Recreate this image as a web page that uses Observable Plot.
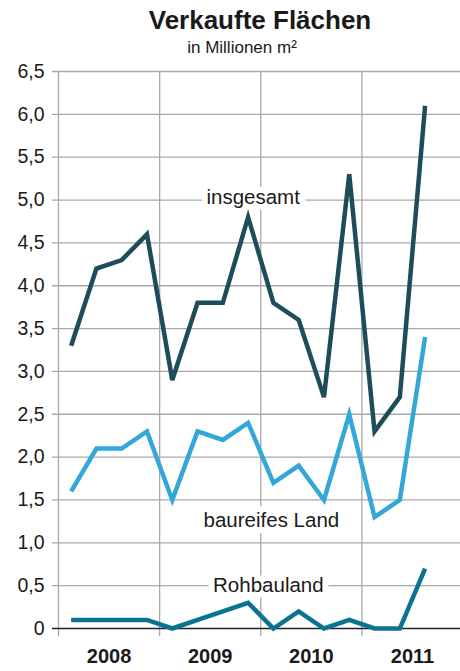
<!DOCTYPE html>
<html>
<head>
<meta charset="utf-8">
<script src="https://cdn.jsdelivr.net/npm/d3@7"></script>
<script src="https://cdn.jsdelivr.net/npm/@observablehq/plot@0.6"></script>
<style>
  body { margin: 0; background: #fff; font-family: "Liberation Sans", Arial, sans-serif; }
  #wrap { position: relative; width: 460px; height: 671px; overflow: hidden; }
  #title { position: absolute; top: 5px; left: 110px; width: 300px; text-align: center; font-weight: bold; font-size: 26px; line-height: 30px; color: #1a1a1a; white-space: nowrap; }
  #subtitle { position: absolute; top: 38px; left: 92px; width: 300px; text-align: center; font-size: 17px; line-height: 20px; color: #1a1a1a; white-space: nowrap; }
  #chart { position: absolute; top: 0; left: 0; }
</style>
</head>
<body>
<div id="wrap">
  <div id="chart"></div>
  <div id="title">Verkaufte Flächen</div>
  <div id="subtitle">in Millionen m²</div>
</div>
<script>
const quarters = d3.range(15); // 2008 Q1 .. 2011 Q3
const years = ["2008", "2009", "2010", "2011"];
const insgesamt = [3.3, 4.2, 4.3, 4.6, 2.9, 3.8, 3.8, 4.8, 3.8, 3.6, 2.7, 5.3, 2.3, 2.7, 6.1];
const baureifes = [1.6, 2.1, 2.1, 2.3, 1.5, 2.3, 2.2, 2.4, 1.7, 1.9, 1.5, 2.5, 1.3, 1.5, 3.4];
const rohbauland = [0.1, 0.1, 0.1, 0.1, 0, 0.1, 0.2, 0.3, 0, 0.2, 0, 0.1, 0, 0, 0.7];
const seriesNames = ["insgesamt", "baureifes Land", "Rohbauland"];
const seriesColors = ["#1e4d5a", "#34a7d9", "#0a7391"];
const yTicks = d3.range(0, 6.51, 0.5);
const labelX = [7.7, 8.42, 8.3];
const labelY = [5.03, 1.26, 0.5];

const rows = [];
[insgesamt, baureifes, rohbauland].forEach((vals, s) => {
  vals.forEach((v, i) => rows.push({series: seriesNames[s], q: quarters[i] + 0.5, value: v}));
});
const labels = seriesNames.map((n, i) => ({name: n, x: labelX[i], y: labelY[i]}));
const fmt = v => v === 0 ? "0" : v.toFixed(1).replace(".", ",");

const plot = Plot.plot({
  width: 460,
  height: 671,
  marginTop: 71,
  marginBottom: 43,
  marginLeft: 58,
  marginRight: 0,
  style: {fontFamily: "Liberation Sans, Arial, sans-serif", background: "#fff", color: "#1a1a1a"},
  x: {domain: [0, 15.9], axis: null},
  y: {domain: [0, 6.5], axis: null},
  color: {domain: seriesNames, range: seriesColors},
  marks: [
    Plot.ruleY(yTicks.filter(d => d > 0), {stroke: "#a8a8a8", strokeWidth: 1.3, insetLeft: -6}),
    Plot.ruleX([0, 4, 8, 12], {stroke: "#a8a8a8", strokeWidth: 1.3, insetBottom: -8}),
    Plot.ruleY([0], {stroke: "#222", strokeWidth: 1.5, insetLeft: -6}),
    Plot.axisY({ticks: yTicks, tickFormat: fmt, tickSize: 0, tickPadding: 14, fontSize: 19.5, anchor: "left"}),
    Plot.axisX({ticks: [2, 6, 10, 14], tickFormat: (d, i) => years[i], tickSize: 0, tickPadding: 20, fontSize: 20, fontWeight: "bold", anchor: "bottom"}),
    Plot.line(rows, {x: "q", y: "value", z: "series", stroke: "series", strokeWidth: 4.5, strokeLinejoin: "miter", strokeMiterlimit: 4, strokeLinecap: "butt"}),
    Plot.text(labels, {x: "x", y: "y", text: "name", fontSize: 20.5, fill: "#1a1a1a", stroke: "white", strokeWidth: 12, paintOrder: "stroke", textAnchor: "middle"})
  ]
});
document.getElementById("chart").appendChild(plot);
</script>
</body>
</html>
